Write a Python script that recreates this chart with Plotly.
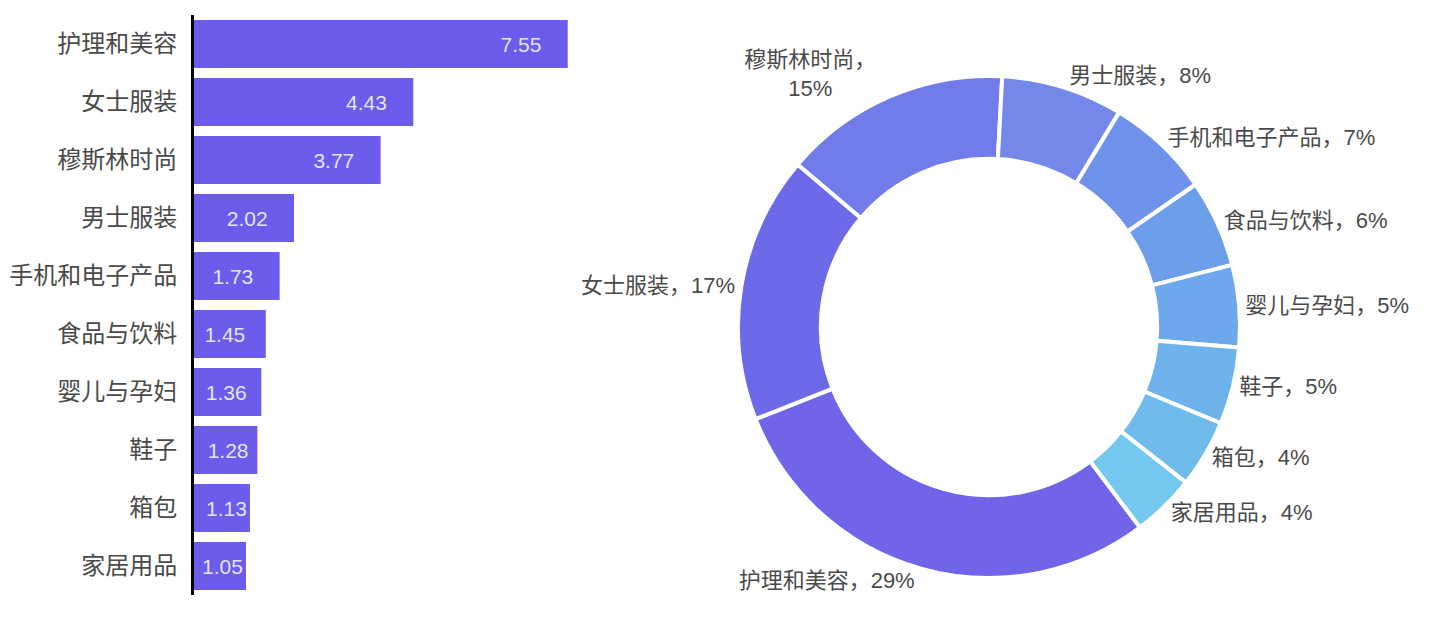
import plotly.graph_objects as go

categories = ["护理和美容", "女士服装", "穆斯林时尚", "男士服装", "手机和电子产品",
              "食品与饮料", "婴儿与孕妇", "鞋子", "箱包", "家居用品"]
values = [7.55, 4.43, 3.77, 2.02, 1.73, 1.45, 1.36, 1.28, 1.13, 1.05]
value_labels = ["7.55", "4.43", "3.77", "2.02", "1.73", "1.45", "1.36", "1.28", "1.13", "1.05"]
pie_prefixes = ["护理和美容，", "女士服装，", "穆斯林时尚，<br>", "男士服装，", "手机和电子产品，",
                "食品与饮料，", "婴儿与孕妇，", "鞋子，", "箱包，", "家居用品，"]
pie_colors = ["#7064E9", "#6C6AE8", "#717BE9", "#7488E9", "#6F92EA",
              "#6D9EEA", "#6CA8EB", "#6EB2EC", "#6FBCEC", "#74C8EE"]

FONT = "Liberation Sans, Noto Sans CJK SC"
W, H = 1443, 621
OFF = 8  # page body margin in the browser
X0, X1, XMAX = 194, 590, 8


def px_x(p):
    return (p - OFF) / W


def px_y(p):
    return (H - (p - OFF)) / H


# right padding inside bars (non-breaking spaces), only where the bar has room
px_per_unit = (X1 - X0) / XMAX
NBSP_W, LABEL_W = 5.8, 40
bar_texts = []
for v, t in zip(values, value_labels):
    n = int(round((v * px_per_unit - LABEL_W - 17) / NBSP_W))
    n = max(0, min(4, n))
    bar_texts.append(t + "\u00a0" * n)

fig = go.Figure()

fig.add_trace(go.Bar(
    x=values, y=categories, orientation="h",
    marker=dict(color="#6B5CEB", line=dict(width=0)),
    text=bar_texts,
    textposition="inside", insidetextanchor="end",
    constraintext="none",
    textfont=dict(color="rgba(255,255,255,0.85)", size=21, family=FONT),
    cliponaxis=True,
    showlegend=False, hoverinfo="skip",
))

fig.add_trace(go.Pie(
    labels=categories, values=values, text=pie_prefixes,
    hole=0.67, sort=True, direction="clockwise", rotation=143,
    marker=dict(colors=pie_colors, line=dict(color="white", width=4)),
    texttemplate="%{text}%{percent:.0%}",
    textposition="outside",
    textfont=dict(color="#4a4a4a", size=22, family=FONT),
    domain=dict(x=[px_x(738), px_x(1240)], y=[px_y(578), px_y(76)]),
    showlegend=False, hoverinfo="skip",
))

fig.update_layout(
    width=W, height=H,
    margin=dict(l=0, r=0, t=0, b=0),
    paper_bgcolor="white", plot_bgcolor="white",
    bargap=0.17,
    font=dict(family=FONT, color="#4a4a4a"),
    xaxis=dict(domain=[px_x(X0), px_x(X1)], range=[0, XMAX], visible=False),
    yaxis=dict(domain=[px_y(595), px_y(15)], autorange="reversed",
               showline=True, linecolor="black", linewidth=3,
               ticks="", ticklabelstandoff=9,
               tickfont=dict(size=24, color="#4a4a4a", family=FONT),
               showgrid=False),
)

fig.write_html("out.html")
